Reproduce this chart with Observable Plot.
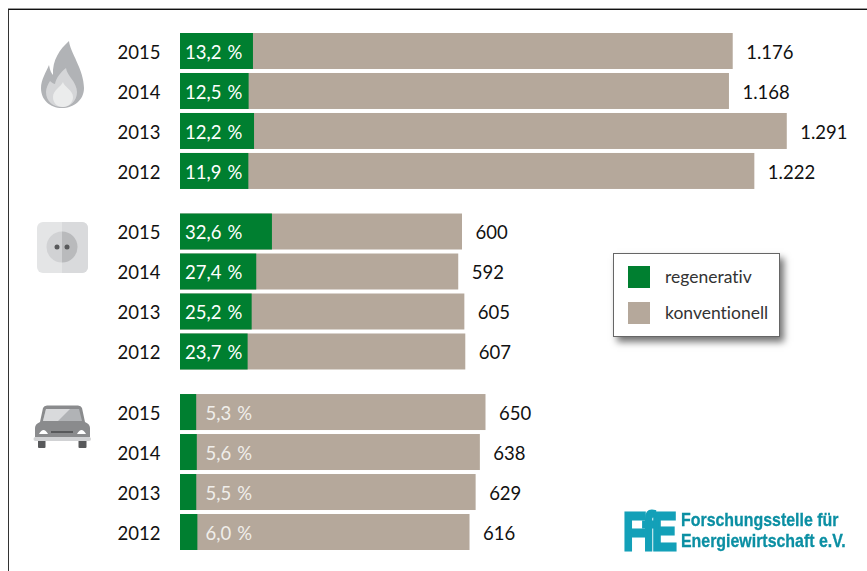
<!DOCTYPE html>
<html lang="de">
<head>
<meta charset="utf-8">
<script src="https://cdn.jsdelivr.net/npm/d3@7"></script>
<script src="https://cdn.jsdelivr.net/npm/@observablehq/plot@0.6"></script>
<style>
  html, body { margin: 0; padding: 0; background: #fff; }
  #page { position: relative; width: 867px; height: 571px; overflow: hidden; font-family: Lato, sans-serif; }
  #frame { position: absolute; left: 8px; top: 9px; right: -4px; bottom: -4px; border-left: 1.5px solid #333; border-top: 1.5px solid #111; box-shadow: 0 -1px 0 #999; }
  #chart { position: absolute; left: 0; top: 0; }
  #chart svg { display: block; font-variant-ligatures: none; }
  #icons { position: absolute; left: 0; top: 0; pointer-events: none; }
  #legend { position: absolute; left: 613px; top: 253px; width: 165px; height: 82px; background: #fff; border: 1px solid #666; box-shadow: 4px 5px 7px rgba(0,0,0,.55); }
  #legend i { position: absolute; left: 14px; width: 22px; height: 22px; }
  #legend span { position: absolute; left: 51px; font-size: 17.5px; line-height: 22px; color: #333; white-space: nowrap; font-variant-ligatures: none; }
  #logo { position: absolute; left: 620px; top: 506px; width: 240px; height: 52px; filter: blur(.45px); }
  #logo b { position: absolute; white-space: nowrap; color: #0b8fa3; font-family: "Liberation Sans", sans-serif; font-weight: 700; transform-origin: 0 0; }
  #logo .mark { left: 3px; top: -4px; font-size: 54px; line-height: 58px; color: #13a0b8; letter-spacing: -5px; -webkit-text-stroke: 3px #13a0b8; transform: scaleX(.7); }
  #logo .line { left: 61px; font-size: 18.5px; line-height: 20px; transform: scaleX(.86); -webkit-text-stroke: .3px #0b8fa3; }
</style>
</head>
<body>
<div id="page">
  <div id="frame"></div>
  <div id="chart"></div>
  <svg id="icons" width="867" height="571" viewBox="0 0 867 571">
    <!-- Gas flame -->
    <path fill="#b1b3b6" d="M69 41C70 52 84 70 84 88C84 100 74 108 62 108C50 108 41 100 41 88C41 80 46 72 49 65C50 70 51 73 53 75C52 60 60 49 69 41Z"/>
    <path fill="#d5d6d8" d="M66 68C67 76 77 82 77 92C77 101 70 107 62 107C53 107 46 101 46 92C46 88 48 84 50 81C52 83 54 84 55 84C56 78 61 72 66 68Z"/>
    <path fill="#ebecec" d="M63 82C64 87 73 90 73 97C73 103 68 107 63 107C57 107 53 103 53 97C53 90 61 87 63 82Z"/>
    <!-- Power socket -->
    <rect x="37" y="222" width="51" height="51" rx="6" fill="#e4e5e6"/>
    <path fill="#d9dadc" d="M62 222H82A6 6 0 0 1 88 228V267A6 6 0 0 1 82 273H62Z"/>
    <path fill="#d1d2d4" d="M62 231.500A15.500 15.500 0 0 0 62 262.500Z"/>
    <path fill="#b9babc" d="M62 231.500A15.500 15.500 0 0 1 62 262.500Z"/>
    <circle cx="57" cy="247" r="2.500" fill="#58595b"/>
    <circle cx="67" cy="247" r="2.500" fill="#58595b"/>
    <!-- Car -->
    <rect x="38" y="440" width="7.500" height="8" rx="1" fill="#58595b"/>
    <rect x="78.500" y="440" width="8" height="8" rx="1" fill="#58595b"/>
    <path fill="#8a8b8d" d="M47 405.500H78Q81 405.500 82 408L85 422Q90 424 90 428V437H35V428Q35 424 40 422L43 408Q44 405.500 47 405.500Z"/>
    <path fill="#b1b3b6" d="M46 409H79L82 421H43Z"/>
    <path fill="#d9dadc" d="M46 409H70L58 421H43Z"/>
    <path fill="#fff" d="M39 434Q43.500 426 48 434Z"/>
    <path fill="#fff" d="M77 434Q81.500 426 86 434Z"/>
    <rect x="51" y="431" width="22" height="2" fill="#58595b"/>
    <rect x="33.500" y="437" width="57.500" height="4" rx="2" fill="#d1d2d4"/>
  </svg>
  <div id="legend">
    <i style="top:12px;background:#007f30"></i><span style="top:12px">regenerativ</span>
    <i style="top:48px;background:#b5a89b"></i><span style="top:48px">konventionell</span>
  </div>
  <div id="logo">
    <b class="mark">FfE</b>
    <b class="line" style="top:4px">Forschungsstelle für</b>
    <b class="line" style="top:25px">Energiewirtschaft e.V.</b>
  </div>
</div>
<script>
// Final energy by sector, with the renewable share of each year
const sectors = ["Wärme", "Strom", "Verkehr"];
const years = ["2015", "2014", "2013", "2012"];
const heatTotals = [1176, 1168, 1291, 1222];
const powerTotals = [600, 592, 605, 607];
const trafficTotals = [650, 638, 629, 616];
const heatShares = [13.2, 12.5, 12.2, 11.9];
const powerShares = [32.6, 27.4, 25.2, 23.7];
const trafficShares = [5.3, 5.6, 5.5, 6.0];

const totalsBySector = [heatTotals, powerTotals, trafficTotals];
const sharesBySector = [heatShares, powerShares, trafficShares];

const rows = sectors.flatMap((sector, s) => years.map((year, i) => ({
  sector, year,
  total: totalsBySector[s][i],
  share: sharesBySector[s][i],
  renewable: totalsBySector[s][i] * sharesBySector[s][i] / 100
})));

const green = "#007f30";
const taupe = "#b5a89b";
const labelSize = 18.5;
const germanDecimal = d3.format(".1f");
// A three-per-em space sets the percent sign slightly apart from the number
const pct = d => germanDecimal(d.share).replace(".", ",") + "\u2004%";
const thousands = d => d.total >= 1000 ? d3.format(",")(d.total).replace(",", ".") : String(d.total);
const narrowGreen = d => d.sector === "Verkehr";

const chart = Plot.plot({
  width: 867,
  height: 571,
  marginLeft: 180,
  marginRight: 29,
  marginTop: 33,
  marginBottom: 21,
  style: { fontFamily: "Lato, sans-serif", fontSize: "18px", background: "transparent", color: "#111" },
  x: { domain: [0, 1400], axis: null },
  y: { domain: years, paddingInner: 0.1, paddingOuter: 0, round: false, label: null },
  fy: { domain: sectors, padding: 0.136, round: false, axis: null, label: null },
  marks: [
    Plot.axisY({ tickSize: 0, tickPadding: 20, label: null, fontSize: labelSize, dy: 1.5 }),
    Plot.barX(rows, { x1: 0, x2: "total", y: "year", fy: "sector", fill: taupe }),
    Plot.barX(rows, { x1: 0, x2: "renewable", y: "year", fy: "sector", fill: green }),
    Plot.text(rows.filter(d => !narrowGreen(d)), { x: 0, y: "year", fy: "sector", text: pct, textAnchor: "start", dx: 4.5, dy: 1.5, fill: "#fff", fontSize: labelSize }),
    Plot.text(rows.filter(narrowGreen), { x: 0, y: "year", fy: "sector", text: pct, textAnchor: "start", dx: 25, dy: 1.5, fill: "#f0eeea", fontSize: labelSize }),
    Plot.text(rows, { x: "total", y: "year", fy: "sector", text: thousands, textAnchor: "start", dx: 13, dy: 1.5, fill: "#111", fontSize: labelSize })
  ]
});
document.getElementById("chart").append(chart);
</script>
</body>
</html>
